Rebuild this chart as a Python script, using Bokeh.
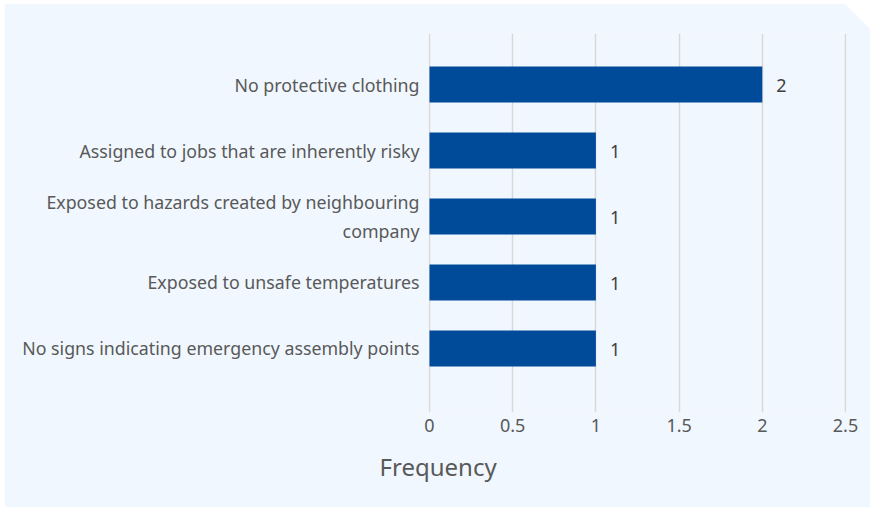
from bokeh.plotting import figure
from bokeh.models import ColumnDataSource, FixedTicker, Range1d, Title
from bokeh.core.properties import value
from bokeh.embed import file_html
from bokeh.resources import INLINE

# Hazard categories, top to bottom, and how often each was reported
categories = [
    "No protective clothing",
    "Assigned to jobs that are inherently risky",
    "Exposed to hazards created by neighbouring\ncompany",
    "Exposed to unsafe temperatures",
    "No signs indicating emergency assembly points",
]
frequency = [2, 1, 1, 1, 1]
x_ticks = [0, 0.5, 1, 1.5, 2, 2.5]
x_tick_labels = ["0", "0.5", "1", "1.5", "2", "2.5"]
x_title = "Frequency"

FONT = "Noto Sans"
CARD = "#f0f7fe"
BAR = "#004b99"
TEXT = "#595959"

positions = list(range(len(categories)))
src = ColumnDataSource(dict(
    y=positions,
    v=frequency,
    txt=[str(f) for f in frequency],
))

# one pixel of slack on each side so the edge grid lines are drawn whole
pad = 1 / 166.4
p = figure(
    width=866, height=504,
    x_range=Range1d(-pad, 2.5 + pad),
    y_range=Range1d(len(categories) - 1 + 0.97, -0.773),
    output_backend="svg", toolbar_location=None,
    min_border_left=424, min_border_right=24,
    min_border_top=30, min_border_bottom=95,
)
p.margin = (3, 0, 0, 4)
p.styles = {"clip-path": "polygon(0 0, 840px 0, 866px 26px, 866px 100%, 0 100%)"}
p.background_fill_color = CARD
p.border_fill_color = CARD
p.outline_line_color = None

p.xgrid.ticker = FixedTicker(ticks=x_ticks)
p.xgrid.grid_line_color = "#d9d9d9"
p.xgrid.grid_line_width = 1.5
p.ygrid.grid_line_color = None

p.hbar(y="y", right="v", left=0, height=0.545, source=src,
       fill_color=BAR, line_color=None)

p.text(x="v", y="y", text="txt", source=src, x_offset=14, y_offset=1,
       text_font=value(FONT), text_font_size="18px", text_color="#404040",
       text_align="left", text_baseline="middle")

# x axis
xa = p.xaxis[0]
xa.ticker = FixedTicker(ticks=x_ticks)
xa.major_label_overrides = {t: l for t, l in zip(x_ticks, x_tick_labels)}
xa.axis_line_color = None
xa.major_tick_line_color = None
xa.minor_tick_line_color = None
xa.major_tick_out = 0
xa.major_label_standoff = 6
xa.major_label_text_font = FONT
xa.major_label_text_font_size = "18px"
xa.major_label_text_color = TEXT

# y axis with category names
ya = p.yaxis[0]
ya.ticker = FixedTicker(ticks=positions)
ya.major_label_overrides = {i: c for i, c in zip(positions, categories)}
ya.axis_line_color = None
ya.major_tick_line_color = None
ya.minor_tick_line_color = None
ya.major_tick_out = 0
ya.major_label_standoff = 9
ya.major_label_text_font = FONT
ya.major_label_text_font_size = "17.8px"
ya.major_label_text_color = TEXT

# axis title, set left of the plot frame, under the category column
p.add_layout(Title(text=x_title, align="left", offset=-49, standoff=26,
                   text_font=FONT, text_font_size="24px",
                   text_color=TEXT, text_font_style="normal"), "below")

open("out.html", "w").write(file_html(p, INLINE))
